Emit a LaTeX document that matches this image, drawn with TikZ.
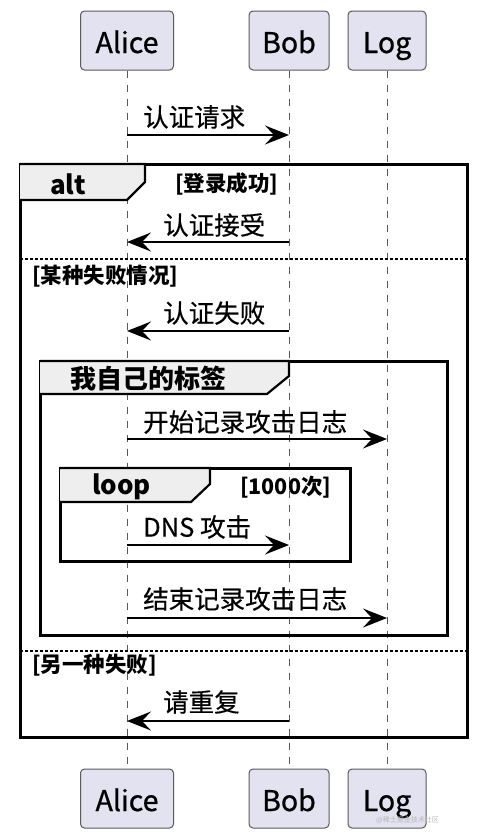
\documentclass[tikz,border=0pt]{standalone}
\usepackage{fontspec}
\setmainfont{Noto Sans CJK SC}
\newfontfamily\partfont{Noto Sans CJK SC}[FakeBold=0.8]
\newfontfamily\msgfont{Noto Sans CJK SC}[FakeBold=0.4]
\usetikzlibrary{arrows.meta}
\definecolor{partfill}{HTML}{E2E2F0}
\definecolor{partdraw}{HTML}{5A5A5A}
\definecolor{tabfill}{HTML}{EEEEEE}
\begin{document}
\begin{tikzpicture}[x=1pt,y=-1pt,
  participant/.style={draw=partdraw,fill=partfill,rounded corners=4pt,line width=1pt,
    inner sep=0pt,text height=27pt,text depth=2pt,font=\partfont\fontsize{28.5}{30}\selectfont},
  lifeline/.style={draw=black!65,line width=0.9pt,dash pattern=on 7pt off 7pt},
  frame/.style={draw=black,line width=3pt},
  tabshape/.style={draw=black,line width=2.2pt,fill=tabfill,line join=miter},
  sep/.style={draw=black,line width=1.1pt,dash pattern=on 3pt off 2pt},
  msg/.style={draw=black,line width=1.4pt,-{Stealth[length=24pt,width=19pt,inset=9pt]}},
  msglabel/.style={anchor=west,inner sep=0pt,font=\msgfont\fontsize{25.5}{27}\selectfont},
  framelabel/.style={anchor=west,inner sep=0pt,font=\bfseries\fontsize{26}{28}\selectfont},
  guardlabel/.style={anchor=west,inner sep=0pt,font=\bfseries\fontsize{21.5}{23}\selectfont},
  wm/.style={anchor=west,inner sep=0pt,text=black!28,font=\fontsize{7}{7.5}\selectfont}]
\useasboundingbox (0,0) rectangle (478,838);
\fill[white] (0,0) rectangle (478,838);

% participants
\node[participant,minimum width=93pt,minimum height=59pt] (Alice) at (127,40.5) {Alice};
\node[participant,minimum width=80pt,minimum height=59pt] (Bob) at (289,40.5) {Bob};
\node[participant,minimum width=78pt,minimum height=59pt] (Log) at (387,40.5) {Log};
\node[participant,minimum width=93pt,minimum height=59pt] (Alice2) at (127,798.5) {Alice};
\node[participant,minimum width=80pt,minimum height=59pt] (Bob2) at (289,798.5) {Bob};
\node[participant,minimum width=78pt,minimum height=59pt] (Log2) at (387,798.5) {Log};

% lifelines
\draw[lifeline] (Alice.south) -- (Alice2.north);
\draw[lifeline] (Bob.south) -- (Bob2.north);
\draw[lifeline] (Log.south) -- (Log2.north);

% levels
\coordinate (y1) at (0,135);
\coordinate (y2) at (0,242);
\coordinate (y3) at (0,331);
\coordinate (y4) at (0,439);
\coordinate (y5) at (0,545);
\coordinate (y6) at (0,618);
\coordinate (y7) at (0,721);

% alt frame
\draw[frame] (20,164) rectangle (467,737);
\draw[tabshape] (20,164) -- (145,164) -- (145,182) -- (127,200) -- (20,200);
\node[framelabel] (altlbl) at (50,184) {alt};
\node[guardlabel] (g1) at (175,184) {[登录成功]};
\draw[sep] (20,259) -- (467,259);
\node[guardlabel] (g2) at (32,276) {[某种失败情况]};
\draw[sep] (20,651) -- (467,651);
\node[guardlabel] (g3) at (32,665) {[另一种失败]};

% group frame
\draw[frame] (40,361) rectangle (447,635);
\draw[tabshape] (40,361) -- (289,361) -- (289,376) -- (267,394) -- (40,394);
\node[framelabel] (grplbl) at (70,379) {我自己的标签};

% loop frame
\draw[frame] (60,468) rectangle (350,561);
\draw[tabshape] (60,468) -- (210,468) -- (210,484) -- (191,502) -- (60,502);
\node[framelabel] (looplbl) at (92,487) {loop};
\node[guardlabel] (g4) at (240,487) {[1000次]};

% messages
\draw[msg] (Alice |- y1) -- (Bob |- y1);
\node[msglabel] (m1) at (143,117) {认证请求};
\draw[msg] (Bob |- y2) -- (Alice |- y2);
\node[msglabel] (m2) at (163,225) {认证接受};
\draw[msg] (Bob |- y3) -- (Alice |- y3);
\node[msglabel] (m3) at (163,313) {认证失败};
\draw[msg] (Alice |- y4) -- (Log |- y4);
\node[msglabel] (m4) at (143,422) {开始记录攻击日志};
\draw[msg] (Alice |- y5) -- (Bob |- y5);
\node[msglabel] (m5) at (143,527) {DNS 攻击};
\draw[msg] (Alice |- y6) -- (Log |- y6);
\node[msglabel] (m6) at (143,599) {结束记录攻击日志};
\draw[msg] (Bob |- y7) -- (Alice |- y7);
\node[msglabel] (m7) at (163,702) {请重复};

% watermark
\node[wm] (wmk) at (376,820) {@稀土掘金技术社区};
\end{tikzpicture}
\end{document}
